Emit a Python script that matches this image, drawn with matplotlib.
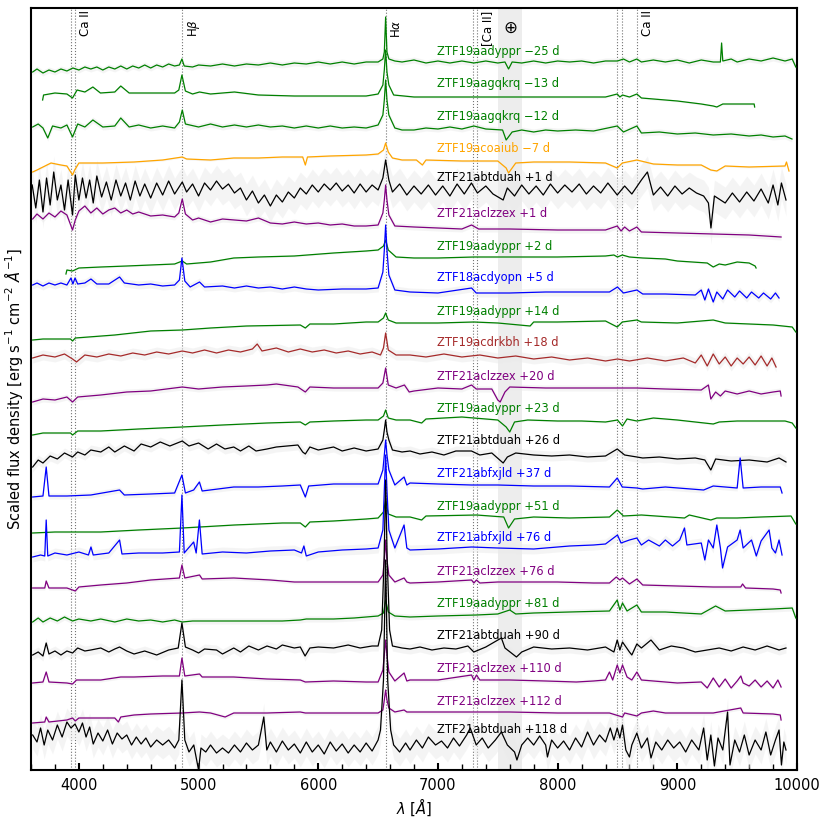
import matplotlib
matplotlib.use('Agg')
import matplotlib.pyplot as plt
import matplotlib.transforms as mtransforms
from matplotlib.ticker import MultipleLocator

# every spectrum: (wavelength [A], scaled flux) pairs
spec_aadyppr_m25 = [(3614, -8), (3650, -5), (3700, -9), (3750, -6), (3800, -8), (3850, -5), (3900, -7), (3950, -4),
                    (4000, -6), (4050, -3), (4100, -5), (4150, -3), (4200, -6), (4250, -3), (4300, -5), (4350, -2),
                    (4400, -5), (4450, -2), (4500, -4), (4550, -1), (4600, -4), (4650, -1), (4700, -3), (4750, 0),
                    (4800, -2), (4840, -1), (4861, 5), (4880, -2), (4950, -3), (5000, -1), (5100, -2), (5200, 0),
                    (5300, -2), (5400, 0), (5500, -1), (5600, 1), (5700, -1), (5800, 1), (5900, 0), (6000, 2),
                    (6100, 0), (6200, 2), (6300, 0), (6400, 2), (6500, 2), (6540, 5), (6552, 12), (6563, 47),
                    (6574, 12), (6590, 5), (6640, 3), (6700, 2), (6800, 4), (6900, 1), (7000, 3), (7100, 1),
                    (7200, 3), (7300, 1), (7400, 3), (7500, 1), (7560, 2), (7590, -5), (7620, 2), (7700, 1),
                    (7800, 3), (7900, 1), (8000, 3), (8100, 2), (8200, 3), (8300, 1), (8400, 3), (8500, 3),
                    (8550, 5), (8600, 2), (8662, 5), (8700, 2), (8800, 4), (8900, 2), (9000, 4), (9100, 1),
                    (9200, 4), (9300, 2), (9360, 2), (9370, 21), (9380, 3), (9450, 5), (9500, 2), (9600, 5),
                    (9700, 3), (9800, 6), (9900, 3), (9960, 5), (9990, -3)]
spec_aagqkrq_m13 = [(3697, -4), (3705, 1), (3800, 3), (3900, 2), (3947, -2), (3985, 6), (4050, 4), (4117, 9),
                    (4180, 3), (4300, 4), (4350, 10), (4420, 3), (4600, 3), (4800, 3), (4835, 6), (4861, 21),
                    (4890, 5), (4950, 2), (5008, 4), (5100, 2), (5300, 4), (5500, 1), (5800, 0), (6100, 0),
                    (6400, 0), (6500, 2), (6540, 11), (6552, 26), (6563, 46), (6574, 24), (6590, 11), (6630, 1),
                    (6800, -1), (7300, -1), (7600, -1), (8000, -1), (8400, -1), (8498, 2), (8520, -1), (8542, 1),
                    (8600, -1), (8662, 2), (8700, -2), (9000, -5), (9200, -8), (9300, -10), (9330, -11),
                    (9380, -8), (9642, -8), (9646, -11)]
spec_aagqkrq_m12 = [(3614, 2), (3660, 5), (3700, 1), (3740, -9), (3780, 3), (3850, 1), (3900, 4), (3947, -8),
                    (3990, 5), (4050, 2), (4117, 9), (4200, 2), (4300, 3), (4350, 11), (4420, 2), (4500, 4),
                    (4600, 1), (4700, 3), (4800, 1), (4840, 7), (4864, 19), (4890, 5), (5000, 2), (5100, 5),
                    (5200, 2), (5300, 4), (5400, 2), (5500, 4), (5600, 2), (5700, 3), (5800, 1), (5900, 3),
                    (6000, 1), (6100, 3), (6200, 1), (6300, 2), (6400, 1), (6500, 4), (6540, 14), (6552, 29),
                    (6563, 49), (6574, 29), (6590, 14), (6640, 1), (6700, -1), (6800, -1), (6900, 1), (7000, 0),
                    (7100, 2), (7200, 0), (7300, 3), (7400, 0), (7540, -1), (7570, -11), (7620, -3), (7700, -1),
                    (7800, -3), (7900, -1), (8000, -2), (8150, -1), (8300, -2), (8498, 3), (8550, -3), (8662, 3),
                    (8700, -4), (8850, -3), (9000, -5), (9150, -4), (9300, -6), (9450, -5), (9600, -7),
                    (9700, -6), (9800, -8), (9900, -7), (9958, -10)]
spec_acoaiub_m7 = [(3614, -11), (3650, -9), (3700, -6), (3767, -2), (3850, -4), (3900, -5), (3947, -14),
                   (3965, -9), (4000, -2), (4200, -2), (4461, -1), (4700, 1), (4864, 4), (4900, 2), (5100, 1),
                   (5294, 3), (5500, 3), (5700, 4), (5870, 4), (5892, -4), (5910, 4), (6100, 5), (6400, 6),
                   (6500, 7), (6545, 11), (6563, 18), (6585, 9), (6620, 3), (6700, 1), (6820, 1), (6870, -4),
                   (6900, 1), (7200, 0), (7500, 0), (7570, -7), (7590, -12), (7650, -2), (7800, -1), (8100, -1),
                   (8400, -2), (8498, -7), (8540, -2), (8662, 1), (8800, -3), (9000, -4), (9200, -4), (9280, -9),
                   (9330, -10), (9400, -5), (9600, -6), (9900, -5), (9912, -1), (9933, -10)]
spec_abtduah_p1 = [(3610, 9), (3640, -14), (3670, 14), (3700, -18), (3730, 16), (3760, -11), (3790, 22),
                   (3820, -6), (3850, 9), (3880, -16), (3910, 14), (3947, -21), (3970, 19), (4000, -6),
                   (4030, 16), (4060, -4), (4090, 14), (4120, -9), (4150, 18), (4190, -3), (4230, 12), (4270, -6),
                   (4310, 14), (4350, -2), (4390, 11), (4430, -6), (4470, 13), (4510, -2), (4550, 10), (4600, -4),
                   (4650, 11), (4700, -1), (4750, 13), (4800, 0), (4864, 12), (4900, 2), (4950, 10), (5000, -2),
                   (5050, 11), (5100, 4), (5150, 13), (5200, 5), (5250, 10), (5300, 1), (5350, 6), (5400, -6),
                   (5450, 3), (5500, -9), (5550, -1), (5600, -12), (5650, -1), (5700, -8), (5750, 2), (5800, -4),
                   (5850, 6), (5900, 0), (5950, 9), (6000, 2), (6050, 10), (6100, 4), (6150, 11), (6200, 3),
                   (6250, 9), (6300, 1), (6350, 10), (6400, 2), (6450, 9), (6500, 4), (6540, 16), (6563, 34),
                   (6590, 14), (6620, 2), (6680, 10), (6740, -1), (6800, 8), (6860, 0), (6920, 9), (6980, -1),
                   (7040, 8), (7100, -2), (7160, 10), (7220, 0), (7280, 11), (7330, 1), (7400, 8), (7460, 0),
                   (7545, -6), (7580, 6), (7640, -2), (7700, 9), (7760, 0), (7820, 8), (7880, -1), (7940, 10),
                   (8000, 1), (8060, 9), (8120, 2), (8180, 10), (8240, 0), (8300, 8), (8360, 1), (8420, 11),
                   (8498, -1), (8560, 8), (8620, 0), (8700, 14), (8750, 22), (8800, -1), (8860, 7), (8920, -2),
                   (8980, 8), (9040, 0), (9100, 6), (9160, 1), (9220, -2), (9260, -9), (9281, -34), (9310, -2),
                   (9400, -9), (9460, 1), (9520, -8), (9580, 2), (9640, -7), (9700, 5), (9760, -9), (9800, 9),
                   (9840, -11), (9870, 11), (9908, -6)]
spec_aclzzex_p1 = [(3614, 7), (3650, 12), (3700, 7), (3750, 13), (3800, 9), (3850, 15), (3900, 11), (3947, -4),
                   (3970, 6), (4000, 15), (4050, 20), (4100, 13), (4150, 18), (4200, 12), (4250, 16), (4300, 18),
                   (4350, 13), (4400, 16), (4450, 12), (4500, 14), (4600, 10), (4700, 11), (4800, 9), (4835, 13),
                   (4864, 27), (4890, 12), (4950, 6), (5000, 8), (5100, 4), (5200, 7), (5300, 6), (5400, 5),
                   (5500, 8), (5600, 3), (5700, 2), (5800, 4), (5900, 2), (6000, 3), (6100, 1), (6200, 2),
                   (6300, 0), (6400, 0), (6500, 1), (6540, 13), (6552, 26), (6563, 41), (6574, 26), (6590, 11),
                   (6640, 0), (6800, -1), (7000, -2), (7200, -3), (7281, 1), (7340, -3), (7600, -3), (8000, -4),
                   (8400, -4), (8498, 0), (8530, -5), (8560, -1), (8600, -5), (8662, -1), (8700, -6), (9000, -7),
                   (9300, -8), (9600, -9), (9867, -11)]
spec_aadyppr_p2 = [(3892, -15), (3900, -11), (3947, -12), (4000, -9), (4183, -8), (4400, -7), (4600, -6),
                   (4800, -5), (4864, -2), (4900, -5), (5100, -3), (5294, 1), (5500, 2), (5800, 3), (6128, 6),
                   (6400, 8), (6500, 9), (6545, 13), (6563, 19), (6585, 9), (6650, 2), (6800, 1), (7000, 1),
                   (7300, 2), (7600, 2), (8000, 2), (8400, 3), (8470, 4), (8500, 2), (8540, 4), (8600, 2),
                   (8711, 1), (8900, 0), (9000, -2), (9250, -4), (9300, -8), (9350, -5), (9400, -6), (9500, -3),
                   (9600, -4), (9650, -7), (9658, -9)]
spec_acdyopn_p5 = [(3614, 6), (3650, 8), (3700, 5), (3750, 8), (3800, 6), (3850, 8), (3900, 6), (3934, 13),
                   (3950, 7), (3968, 13), (3990, 7), (4050, 8), (4101, 12), (4150, 7), (4250, 7), (4340, 14),
                   (4380, 8), (4500, 6), (4600, 7), (4700, 5), (4800, 6), (4840, 11), (4861, 33), (4885, 10),
                   (4930, 4), (5008, 9), (5050, 4), (5200, 5), (5300, 3), (5400, 5), (5500, 3), (5600, 4),
                   (5700, 2), (5800, 4), (5900, 2), (6000, 1), (6200, 2), (6400, 2), (6500, 3), (6540, 19),
                   (6552, 41), (6563, 66), (6574, 41), (6590, 16), (6640, 1), (6767, -1), (7000, -2), (7281, 3),
                   (7320, -2), (7600, -2), (7900, -1), (8200, -1), (8433, -1), (8500, 4), (8550, -2), (8662, 1),
                   (8711, -3), (8900, -3), (9150, -4), (9200, 1), (9230, -9), (9260, 2), (9300, -11), (9330, -1),
                   (9380, -8), (9420, 1), (9480, -6), (9520, 0), (9580, -7), (9620, -1), (9680, -7), (9720, -2),
                   (9780, -8), (9820, -2), (9850, -7)]
spec_aadyppr_p14 = [(3614, -16), (3700, -15), (3930, -15), (3947, -17), (3970, -14), (4300, -11), (4600, -7),
                    (4864, -6), (5100, -4), (5400, -2), (5850, -1), (5892, -4), (5930, 0), (6128, 0), (6400, 2),
                    (6500, 2), (6545, 6), (6563, 11), (6585, 4), (6650, 1), (6800, 1), (7000, 1), (7300, 2),
                    (7500, 1), (7770, -2), (7800, 2), (8000, 2), (8400, 3), (8498, -3), (8540, 2), (8662, 4),
                    (8700, 2), (9000, 1), (9300, 4), (9400, 1), (9600, 0), (9800, -1), (9960, -3), (9990, -8)]
spec_acdrkbh_p18 = [(3614, -2), (3700, 1), (3800, -1), (3880, 2), (3947, -3), (3980, -6), (4050, 1), (4150, -1),
                    (4250, 2), (4350, 0), (4450, 3), (4550, 1), (4650, 4), (4750, 2), (4864, 5), (4950, 3),
                    (5050, 6), (5150, 3), (5250, 6), (5350, 4), (5450, 7), (5490, 12), (5530, 5), (5650, 8),
                    (5750, 4), (5850, 7), (5950, 4), (6050, 6), (6150, 3), (6250, 5), (6350, 2), (6450, 4),
                    (6520, 1), (6545, 8), (6563, 23), (6585, 6), (6650, 1), (6767, 1), (6900, -1), (7050, 2),
                    (7200, -1), (7350, 1), (7500, -2), (7650, 0), (7800, -3), (7950, -1), (8100, -4), (8250, -2),
                    (8400, -5), (8500, -3), (8600, -5), (8750, -2), (8900, -5), (9050, -2), (9150, -7), (9200, 1),
                    (9250, -10), (9300, 2), (9350, -8), (9400, -1), (9450, -10), (9500, -2), (9550, -8),
                    (9600, -1), (9650, -9), (9700, 0), (9750, -10), (9790, -2), (9825, -11)]
spec_aclzzex_p20 = [(3614, -13), (3700, -10), (3800, -11), (3900, -8), (3947, -13), (3990, -8), (4183, -6),
                    (4400, -3), (4600, -2), (4864, 2), (5000, 0), (5200, 2), (5400, 3), (5572, 4), (5650, 5),
                    (5830, 2), (5892, -3), (5930, 2), (6128, 1), (6400, 1), (6500, 1), (6540, 6), (6563, 21),
                    (6585, 4), (6650, 1), (6720, 4), (6760, -3), (6800, -2), (7000, 1), (7200, 0), (7281, 4),
                    (7320, 0), (7450, 0), (7500, -11), (7520, -13), (7560, -3), (7600, 2), (7900, 1), (8200, 1),
                    (8500, 1), (8662, 1), (8900, 0), (9200, -1), (9260, 4), (9280, -10), (9320, -3), (9360, -7),
                    (9400, -2), (9500, -5), (9600, -2), (9700, -5), (9800, -3), (9860, -2), (9867, -7)]
spec_aadyppr_p23 = [(3614, -14), (3700, -12), (3930, -12), (3947, -14), (3990, -10), (4183, -10), (4500, -8),
                    (4864, -6), (5200, -4), (5572, -2), (5850, -1), (5892, -4), (5930, -1), (6128, 0), (6400, 1),
                    (6500, 1), (6545, 5), (6563, 11), (6585, 3), (6650, 1), (6767, 1), (6864, -2), (6900, 2),
                    (7200, 4), (7500, 1), (7570, -6), (7600, -11), (7640, -1), (7750, 1), (8000, 0), (8200, 0),
                    (8400, -1), (8500, 1), (8542, -5), (8580, 2), (8662, 0), (8800, 3), (9000, 1), (9300, -3),
                    (9350, -1), (9500, 0), (9700, 0), (9900, 0), (9960, -2), (9990, -7)]
spec_abtduah_p26 = [(3614, -13), (3660, -6), (3700, -9), (3760, -2), (3820, -5), (3880, 1), (3947, -3), (3990, 2),
                    (4050, -1), (4100, 4), (4183, 2), (4250, 7), (4300, 2), (4380, 8), (4461, 3), (4520, 10),
                    (4600, 7), (4680, 12), (4760, 8), (4864, 13), (4920, 8), (5000, 11), (5080, 5), (5150, 10),
                    (5220, 5), (5294, 7), (5350, 3), (5420, 8), (5480, 3), (5572, 5), (5650, 7), (5830, 9),
                    (5870, 2), (5892, 0), (5930, 7), (6000, 4), (6128, 7), (6200, 3), (6300, 6), (6400, 3),
                    (6500, 5), (6540, 14), (6552, 24), (6563, 34), (6574, 22), (6590, 14), (6620, 4), (6700, 2),
                    (6767, 3), (6850, 0), (6950, 2), (7050, -1), (7150, 3), (7280, 3), (7350, -1), (7450, 1),
                    (7545, -9), (7580, -3), (7650, 1), (7800, -1), (7950, -2), (8100, -1), (8250, -3), (8400, -2),
                    (8498, 5), (8560, -1), (8662, -3), (8711, -4), (8850, -3), (9000, -5), (9150, -4), (9230, -6),
                    (9280, -16), (9320, -5), (9450, -7), (9600, -6), (9750, -8), (9850, -4), (9908, -8)]
spec_abfxjld_p37 = [(3614, -11), (3700, -10), (3727, 19), (3750, -10), (3900, -10), (4100, -9), (4340, -4),
                    (4380, -9), (4600, -8), (4800, -7), (4861, 11), (4890, -7), (4959, -4), (5007, 4), (5030, -5),
                    (5294, -1), (5500, -1), (5700, 0), (5850, 1), (5892, -11), (5920, 0), (6128, 2), (6400, 2),
                    (6500, 2), (6540, 16), (6552, 31), (6563, 46), (6574, 31), (6590, 16), (6640, 1), (6717, 9),
                    (6740, 1), (6767, 3), (7000, 2), (7281, 1), (7500, 1), (7800, 0), (8100, 0), (8433, -1),
                    (8498, 8), (8540, -1), (8662, -2), (8711, -3), (8900, -1), (9220, -4), (9300, 0), (9500, -2),
                    (9525, 28), (9550, -2), (9700, -1), (9860, -1), (9875, -7)]
spec_aadyppr_p51 = [(3614, -14), (3800, -13), (4183, -13), (4500, -11), (4864, -9), (5300, -6), (5700, -4),
                    (5850, -4), (5892, -8), (5930, -3), (6128, -2), (6400, 0), (6500, 1), (6545, 7), (6563, 19),
                    (6585, 5), (6650, 2), (6767, 2), (6864, -1), (6900, 3), (7322, 4), (7550, 2), (7590, -9),
                    (7640, 0), (7800, 2), (8100, 1), (8433, 2), (8498, 9), (8550, 3), (8700, 4), (9060, 1),
                    (9100, 4), (9280, -1), (9330, 1), (9500, 1), (9700, 2), (9950, 3), (9990, -5)]
spec_abfxjld_p76 = [(3614, -6), (3680, -4), (3715, -5), (3727, 31), (3740, -5), (3800, -2), (3900, -4), (4000, -1),
                    (4080, -4), (4101, 4), (4120, -4), (4250, -2), (4340, 11), (4360, -3), (4500, -2), (4700, -2),
                    (4840, -1), (4861, 56), (4880, -2), (4959, 9), (4980, -2), (5007, 31), (5030, -3), (5200, -1),
                    (5400, -2), (5600, 0), (5800, 1), (5860, -2), (5880, 5), (5900, -5), (6000, -1), (6200, 1),
                    (6400, 2), (6500, 3), (6540, 21), (6552, 61), (6563, 96), (6574, 61), (6590, 21), (6640, 3),
                    (6717, 26), (6740, 3), (6767, 1), (7000, 2), (7281, 4), (7500, 3), (7800, 2), (8100, 5),
                    (8300, 6), (8400, 7), (8500, 16), (8530, 8), (8600, 11), (8662, 13), (8700, 6), (8760, 11),
                    (8850, 5), (8900, 11), (8960, 5), (9020, 11), (9060, 23), (9080, 6), (9200, 8), (9230, -9),
                    (9260, 11), (9300, 3), (9330, 26), (9360, 3), (9378, -17), (9420, 4), (9500, 11), (9525, 21),
                    (9550, 3), (9620, 11), (9660, -5), (9700, 10), (9767, 21), (9790, 3), (9820, -2), (9850, 11),
                    (9875, -4)]
spec_aclzzex_p76 = [(3614, -4), (3715, -4), (3727, 3), (3750, -4), (3900, -4), (3947, -6), (3970, -7), (4000, -3),
                    (4183, -1), (4400, 1), (4600, 4), (4840, 6), (4861, 19), (4885, 6), (5008, 9), (5030, 5),
                    (5294, 6), (5600, 4), (5800, 2), (6000, 2), (6200, 2), (6400, 2), (6500, 2), (6540, 9),
                    (6552, 24), (6563, 44), (6574, 24), (6590, 9), (6640, 2), (6717, 6), (6740, 2), (6767, 1),
                    (7000, 2), (7281, 4), (7300, 1), (7322, 4), (7350, 1), (7500, 2), (8000, 2), (8300, 1),
                    (8433, 1), (8490, 7), (8520, 4), (8542, 6), (8600, 0), (8662, 5), (8711, -1), (9000, -2),
                    (9300, -3), (9530, -3), (9545, 0), (9570, -4), (9800, -5), (9860, -6), (9867, -9)]
spec_aadyppr_p81 = [(3614, -6), (3660, -2), (3700, -6), (3760, -2), (3820, -5), (3880, -1), (3947, -5), (4000, -3),
                    (4100, -5), (4183, -3), (4300, -6), (4400, -3), (4500, -5), (4600, -4), (4700, -6), (4800, -4),
                    (4864, -6), (4950, -5), (5100, -5), (5294, -5), (5500, -5), (5700, -5), (5850, -4), (5900, -3),
                    (6000, -3), (6128, -3), (6300, -2), (6400, -1), (6500, 0), (6545, 3), (6563, 16), (6585, 4),
                    (6640, 0), (6767, -1), (7000, 0), (7322, 1), (7500, 2), (7600, 6), (7650, 2), (7800, 3),
                    (8100, 4), (8433, 5), (8498, 16), (8520, 6), (8542, 13), (8580, 5), (8662, 11), (8700, 4),
                    (8900, 4), (9050, 3), (9200, 2), (9320, 10), (9400, 5), (9600, 6), (9800, 7), (9960, 8),
                    (9990, -2)]
spec_abtduah_p90 = [(3614, -6), (3660, -3), (3700, -7), (3727, 6), (3750, -5), (3800, -2), (3850, -6), (3900, -2),
                    (3947, -4), (3990, 1), (4050, -2), (4100, -1), (4183, 1), (4250, -3), (4300, 0), (4340, 2),
                    (4400, -2), (4461, -5), (4550, -2), (4650, -6), (4750, -1), (4830, 1), (4861, 26), (4890, 2),
                    (4950, -1), (5000, -4), (5050, 0), (5150, -1), (5200, -5), (5294, 1), (5350, -3), (5420, 3),
                    (5500, -1), (5572, 3), (5650, 0), (5700, 4), (5800, 1), (5850, 2), (5890, -7), (5930, 1),
                    (6000, 2), (6128, 1), (6250, 4), (6350, 1), (6450, 3), (6500, 3), (6530, 19), (6550, 89),
                    (6563, 169), (6576, 89), (6596, 19), (6620, 3), (6700, 1), (6767, 0), (6850, 2), (6950, -1),
                    (7050, 1), (7150, 0), (7250, 3), (7300, -3), (7400, 2), (7530, 11), (7560, 1), (7656, -8),
                    (7700, -3), (7800, 2), (7950, 0), (8100, 1), (8250, -1), (8400, 2), (8470, -3), (8498, 9),
                    (8520, -1), (8542, 7), (8600, -3), (8620, -6), (8662, 5), (8700, 1), (8780, 9), (8850, -1),
                    (8950, 3), (9050, 1), (9150, -3), (9250, -1), (9350, 1), (9450, -2), (9550, 2), (9650, -1),
                    (9750, 3), (9850, -1), (9908, 1)]
spec_aclzzex_p110 = [(3614, -2), (3700, -1), (3727, 9), (3750, -1), (3900, -2), (3947, -3), (3980, 1), (4183, 1),
                     (4350, 4), (4461, 4), (4700, 5), (4840, 5), (4861, 23), (4885, 5), (5008, 7), (5030, 4),
                     (5294, 4), (5572, 2), (5850, 1), (5892, -1), (6128, 0), (6400, -1), (6500, -1), (6540, 11),
                     (6552, 26), (6563, 41), (6574, 26), (6590, 9), (6640, 0), (6717, 8), (6740, 0), (6767, 1),
                     (7000, 1), (7281, 6), (7300, 1), (7322, 6), (7350, 1), (7600, 1), (7900, 0), (8156, -1),
                     (8300, 0), (8400, 1), (8433, 9), (8460, 1), (8498, 16), (8520, 8), (8542, 16), (8580, 4),
                     (8620, 1), (8662, 9), (8700, 1), (8900, -1), (9000, -2), (9200, -1), (9250, -7), (9300, 3),
                     (9350, -6), (9400, 2), (9450, -7), (9500, 0), (9531, 5), (9550, -2), (9600, -5), (9650, 1),
                     (9700, -6), (9750, 0), (9800, -7), (9840, 1), (9867, -6)]
spec_aclzzex_p112 = [(3614, -9), (3715, -8), (3727, -3), (3750, -8), (3900, -6), (3947, -4), (3970, -7), (4000, -4),
                     (4183, -4), (4300, -4), (4330, -8), (4350, -3), (4461, -1), (4600, 0), (4864, 1), (5008, 2),
                     (5100, 1), (5222, -3), (5294, 1), (5572, 1), (5850, 2), (5892, 1), (6128, 1), (6400, 1),
                     (6500, 1), (6540, 4), (6552, 14), (6563, 24), (6574, 14), (6590, 6), (6640, 2), (6717, 4),
                     (6740, 2), (6767, 2), (7000, 2), (7322, 2), (7600, 2), (8000, 1), (8433, 1), (8542, -3),
                     (8560, 1), (8662, -2), (8700, 1), (8800, 3), (8900, 1), (9300, 1), (9530, 6), (9550, 1),
                     (9800, 0), (9860, -1), (9867, -6)]
spec_abtduah_p118 = [(3614, 11), (3650, 4), (3680, 18), (3710, 1), (3740, 16), (3780, 6), (3820, 21), (3860, 9),
                     (3900, 24), (3934, 18), (3968, 22), (4000, 14), (4030, 23), (4060, 9), (4090, 19), (4120, 2),
                     (4160, 13), (4200, 5), (4240, 16), (4280, 2), (4320, 13), (4360, 7), (4400, 11), (4440, 1),
                     (4480, 9), (4520, 2), (4560, 8), (4600, -1), (4650, 6), (4700, 1), (4750, 6), (4800, -2),
                     (4835, 6), (4861, 66), (4885, 6), (4920, -6), (4960, 1), (5000, -24), (5020, -2), (5060, -6),
                     (5100, 1), (5150, -7), (5200, -2), (5250, -7), (5300, 1), (5350, -6), (5400, 3), (5450, -4),
                     (5500, 1), (5545, 29), (5570, -4), (5600, 4), (5650, -6), (5700, 5), (5750, -4), (5800, 2),
                     (5850, -7), (5900, 4), (5950, -6), (6000, 1), (6050, -8), (6100, 4), (6150, -5), (6200, 2),
                     (6250, -7), (6300, 1), (6350, -6), (6400, 3), (6450, -5), (6500, 6), (6520, 16), (6545, 66),
                     (6563, 186), (6580, 66), (6605, 16), (6630, 1), (6680, -6), (6730, 3), (6767, -4), (6820, 6),
                     (6870, -2), (6920, 9), (6980, 1), (7030, 5), (7080, -2), (7130, 8), (7180, 0), (7240, 11),
                     (7270, 18), (7320, 1), (7370, 8), (7420, -2), (7480, 6), (7530, 14), (7580, 1), (7640, -6),
                     (7660, -14), (7700, 1), (7750, 8), (7800, 1), (7850, 10), (7900, 1), (7915, -11), (7950, 6),
                     (8000, -2), (8050, 5), (8100, -4), (8150, 8), (8200, -1), (8250, 14), (8300, 1), (8350, 11),
                     (8400, 4), (8440, 18), (8470, 6), (8498, 18), (8520, 8), (8542, 21), (8570, -4), (8600, -11),
                     (8620, 1), (8662, 13), (8700, -2), (8750, 8), (8780, -12), (8820, 4), (8870, -4), (8920, 6),
                     (8970, -2), (9020, 4), (9070, -6), (9120, 6), (9180, -4), (9220, 18), (9250, -14), (9280, 11),
                     (9310, -20), (9340, 8), (9380, -4), (9420, 34), (9440, -19), (9480, 6), (9520, -6), (9560, 11),
                     (9600, -9), (9650, 6), (9700, -4), (9740, 14), (9780, -9), (9820, 6), (9850, 16), (9870, -19),
                     (9890, 4), (9908, -4)]

spectra = [spec_aadyppr_m25, spec_aagqkrq_m13, spec_aagqkrq_m12, spec_acoaiub_m7, spec_abtduah_p1,
           spec_aclzzex_p1, spec_aadyppr_p2, spec_acdyopn_p5, spec_aadyppr_p14, spec_acdrkbh_p18,
           spec_aclzzex_p20, spec_aadyppr_p23, spec_abtduah_p26, spec_abfxjld_p37, spec_aadyppr_p51,
           spec_abfxjld_p76, spec_aclzzex_p76, spec_aadyppr_p81, spec_abtduah_p90, spec_aclzzex_p110,
           spec_aclzzex_p112, spec_abtduah_p118]
names = ['ZTF19aadyppr', 'ZTF19aagqkrq', 'ZTF19aagqkrq', 'ZTF19acoaiub', 'ZTF21abtduah', 'ZTF21aclzzex',
         'ZTF19aadyppr', 'ZTF18acdyopn', 'ZTF19aadyppr', 'ZTF19acdrkbh', 'ZTF21aclzzex', 'ZTF19aadyppr',
         'ZTF21abtduah', 'ZTF21abfxjld', 'ZTF19aadyppr', 'ZTF21abfxjld', 'ZTF21aclzzex', 'ZTF19aadyppr',
         'ZTF21abtduah', 'ZTF21aclzzex', 'ZTF21aclzzex', 'ZTF21abtduah']
phases = [-25, -13, -12, -7, 1, 1, 2, 5, 14, 18, 20, 23, 26, 37, 51, 76, 76, 81, 90, 110, 112, 118]
colors = ['green', 'green', 'green', 'orange', 'black', 'purple', 'green', 'blue', 'green', 'brown',
          'purple', 'green', 'black', 'blue', 'green', 'blue', 'purple', 'green', 'black', 'purple',
          'purple', 'black']
offsets = [706, 674, 641, 609, 576, 544, 511, 479, 446, 414, 381, 349, 316, 284, 251, 219, 186, 154, 121, 89, 56, 24]
# rough size of the grey uncertainty band around each spectrum
errors = [3, 1, 3, 1, 16, 3, 1, 4, 1, 5, 3, 1, 5, 3, 1, 5, 2, 3, 5, 2, 2, 14]

# reference lines
line_waves = [3934, 3968, 4861, 6563, 7291, 7324, 8498, 8542, 8662]
label_waves = [3968, 4861, 6563, 7324, 8662]
label_texts = ['Ca II', r'H$\beta$', r'H$\alpha$', '[Ca II]', 'Ca II']
telluric = (7500, 7700)

fig = plt.figure(figsize=(8.3, 8.19), dpi=100)
ax = fig.add_axes([31 / 830, 49 / 819, 766 / 830, 762 / 819])

ax.axvspan(telluric[0], telluric[1], color='0.93', lw=0, zorder=0)
for w in line_waves:
    ax.axvline(w, color='0.45', ls=':', lw=0.8, zorder=1)

trans = mtransforms.blended_transform_factory(ax.transData, ax.transAxes)
for w, t in zip(label_waves, label_texts):
    ytop = 0.985 if t.startswith('H') else 0.997
    ax.text(w + 35, ytop, t, rotation=90, ha='left', va='top', fontsize=8.5, transform=trans)
ax.text(sum(telluric) / 2, 0.974, r'$\oplus$', ha='center', va='center', fontsize=12, transform=trans)

for spec, name, ph, col, off, err in zip(spectra, names, phases, colors, offsets, errors):
    wave = [p[0] for p in spec]
    flux = [off + p[1] for p in spec]
    ax.fill_between(wave, [f - err for f in flux], [f + err for f in flux], color='0.92', alpha=0.5,
                    lw=0, zorder=2)
    ax.plot(wave, flux, color=col, lw=0.9, zorder=3)
    label = f'{name} {ph:+d} d'.replace('-', '\u2212')
    ax.text(6990, off + 12 + 0.3 * err, label, color=col, fontsize=8.3, ha='left', va='center', zorder=4)

ax.set_xlim(3600, 10000)
ax.set_ylim(0, 762)
ax.set_yticks([])
ax.xaxis.set_major_locator(MultipleLocator(1000))
ax.xaxis.set_minor_locator(MultipleLocator(200))
ax.tick_params(axis='x', which='major', direction='in', length=5, width=1.5, labelsize=10.5, pad=6)
ax.tick_params(axis='x', which='minor', direction='in', length=4, width=1)
for s in ax.spines.values():
    s.set_linewidth(1.5)

ax.set_xlabel(r'$\lambda$ [$Å$]', fontsize=10.5, labelpad=2)
ax.set_ylabel(r'Scaled flux density [erg s$^{-1}$ cm$^{-2}$ $Å^{-1}$]', fontsize=10.5)

fig.savefig('out.png', dpi=100)
